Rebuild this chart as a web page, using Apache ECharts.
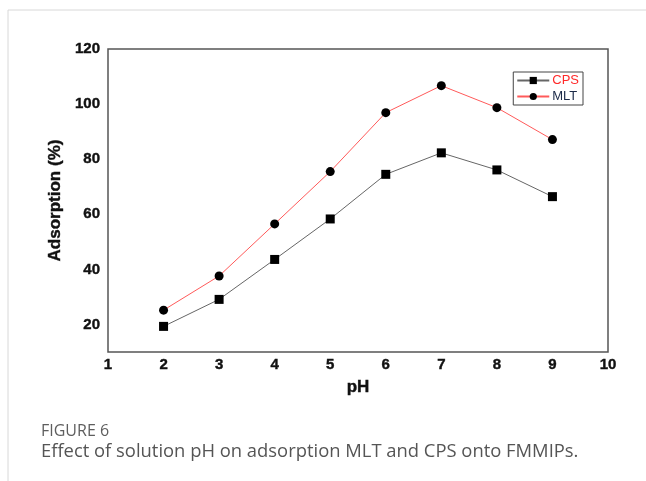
<!DOCTYPE html>
<html>
<head>
<meta charset="utf-8">
<script src="https://cdn.jsdelivr.net/npm/echarts@6/dist/echarts.min.js"></script>
<style>
  html, body { margin: 0; padding: 0; background: #fff; }
  #chart { width: 646px; height: 481px; }
</style>
</head>
<body>
<div id="chart"></div>
<script>
// Solution pH values tested
const phValues = [2, 3, 4, 5, 6, 7, 8, 9];
// Adsorption (%) for each analyte
const cpsAdsorption = [19.3, 29.1, 43.6, 58.3, 74.5, 82.3, 76.1, 66.4];
const mltAdsorption = [25.2, 37.6, 56.5, 75.5, 96.9, 106.7, 98.7, 87.1];
// Labelled y-axis ticks
const yTickLabels = [20, 40, 60, 80, 100, 120];

const chart = echarts.init(document.getElementById('chart'), null, { renderer: 'canvas' });

const boldFont = 'Liberation Sans, Arial, sans-serif';
const tickFont = {
  fontFamily: boldFont,
  fontWeight: 'bold',
  fontSize: 15,
  color: '#111',
  textBorderColor: '#111',
  textBorderWidth: 0.4
};

chart.setOption({
  animation: false,
  backgroundColor: '#fff',
  grid: {
    left: 108, right: 38, top: 49, bottom: 129,
    show: true, borderColor: '#555', borderWidth: 1.5, backgroundColor: 'transparent'
  },
  legend: {
    right: 63, top: 72,
    orient: 'vertical',
    itemWidth: 32, itemHeight: 9, itemGap: 3,
    padding: [2, 4, 2, 3],
    borderColor: '#444', borderWidth: 1,
    textStyle: { fontFamily: boldFont, fontSize: 13, padding: [0, 0, 0, -2] },
    data: [
      { name: 'CPS', textStyle: { color: '#ff2a2a' } },
      { name: 'MLT', textStyle: { color: '#1c2a48' } }
    ]
  },
  xAxis: {
    type: 'value', min: 1, max: 10, interval: 1,
    name: 'pH', nameLocation: 'middle', nameGap: 27,
    nameTextStyle: { fontFamily: boldFont, fontWeight: 'bold', fontSize: 17, color: '#111', textBorderColor: '#111', textBorderWidth: 0.4 },
    axisLine: { show: false }, axisTick: { show: false }, splitLine: { show: false },
    axisLabel: Object.assign({ margin: 5 }, tickFont)
  },
  yAxis: {
    type: 'value', min: 10, max: 120, interval: 10,
    name: 'Adsorption (%)', nameLocation: 'middle', nameGap: 41,
    nameTextStyle: { fontFamily: boldFont, fontWeight: 'bold', fontSize: 17, color: '#111', textBorderColor: '#111', textBorderWidth: 0.4 },
    axisLine: { show: false }, axisTick: { show: false }, splitLine: { show: false },
    axisLabel: Object.assign({
      margin: 8,
      formatter: v => (yTickLabels.indexOf(v) >= 0 ? String(v) : '')
    }, tickFont)
  },
  series: [
    {
      name: 'CPS', type: 'line',
      data: phValues.map((p, i) => [p, cpsAdsorption[i]]),
      symbol: 'rect', symbolSize: 9,
      lineStyle: { color: '#666', width: 1 },
      itemStyle: { color: '#000' }
    },
    {
      name: 'MLT', type: 'line',
      data: phValues.map((p, i) => [p, mltAdsorption[i]]),
      symbol: 'circle', symbolSize: 9,
      lineStyle: { color: '#ff5a5a', width: 1 },
      itemStyle: { color: '#000' }
    }
  ],
  graphic: [
    { type: 'line', shape: { x1: 8, y1: 10, x2: 646, y2: 10 }, style: { stroke: '#d8d8d8', lineWidth: 1 } },
    { type: 'line', shape: { x1: 8, y1: 10, x2: 8, y2: 481 }, style: { stroke: '#d8d8d8', lineWidth: 1 } },
    {
      type: 'text', left: 41, top: 423,
      style: { text: 'FIGURE 6', fill: '#5e5e5e', font: '500 16px "Open Sans", sans-serif' }
    },
    {
      type: 'text', left: 41, top: 443,
      style: { text: 'Effect of solution pH on adsorption MLT and CPS onto FMMIPs.', fill: '#555', font: '18.4px "Open Sans", sans-serif' }
    }
  ]
});
</script>
</body>
</html>
